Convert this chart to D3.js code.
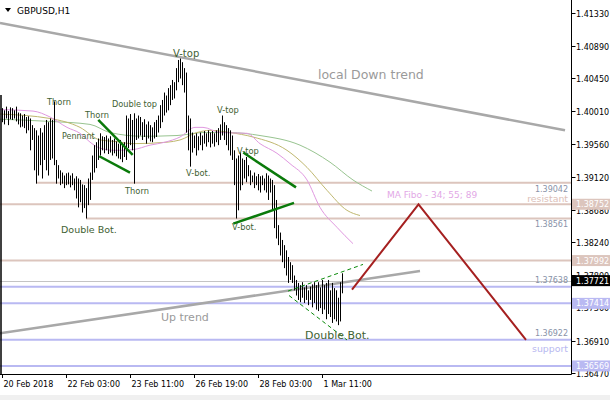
<!DOCTYPE html>
<html><head><meta charset="utf-8">
<script src="https://cdn.jsdelivr.net/npm/d3@7"></script>
<style>body{margin:0;background:#fff}svg{display:block}text{font-family:"DejaVu Sans",sans-serif}</style>
</head><body>
<svg id="c" width="610" height="400"></svg>
<script>
// ---- data ----
const highs = [1.4005,1.4002,1.4007,1.4001,1.4006,1.4005,1.4002,1.4007,1.3999,1.3998,
1.3995,1.3997,1.3993,1.3994,1.3991,1.3982,1.3978,1.3975,1.3968,1.3978,
1.3972,1.3982,1.3989,1.3986,1.3991,1.3989,1.4014,1.3935,1.3928,1.3921,
1.3918,1.3914,1.3917,1.3918,1.3914,1.3917,1.3910,1.3913,1.3910,1.3908,
1.3902,1.3901,1.3897,1.3910,1.3918,1.3941,1.3955,1.3959,1.3964,1.3971,
1.3967,1.3966,1.3968,1.3964,1.3967,1.3962,1.3964,1.3960,1.3957,1.3962,
1.3955,1.3959,1.3995,1.3991,1.3997,1.3989,1.3998,1.3991,1.3995,1.3993,
1.3986,1.3990,1.3983,1.3987,1.3982,1.3979,1.3986,1.3989,1.3995,1.4009,
1.4016,1.4026,1.4022,1.4032,1.4036,1.4043,1.4040,1.4059,1.4070,1.4072,
1.4067,1.4059,1.4053,1.3995,1.3991,1.3972,1.3968,1.3971,1.3967,1.3972,
1.3968,1.3974,1.3971,1.3975,1.3972,1.3974,1.3971,1.3975,1.3978,1.3983,
1.3995,1.3986,1.3982,1.3978,1.3975,1.3968,1.3948,1.3937,1.3941,1.3945,
1.3937,1.3935,1.3939,1.3928,1.3921,1.3914,1.3918,1.3913,1.3916,1.3913,
1.3914,1.3910,1.3917,1.3914,1.3910,1.3908,1.3901,1.3881,1.3847,1.3837,
1.3827,1.3820,1.3813,1.3804,1.3797,1.3793,1.3779,1.3773,1.3769,1.3766,
1.3770,1.3763,1.3766,1.3759,1.3764,1.3767,1.3770,1.3766,1.3770,1.3763,
1.3773,1.3766,1.3769,1.3773,1.3759,1.3769,1.3762,1.3759,1.3749,1.3770,
1.3782];
const lows = [1.3986,1.3983,1.3991,1.3982,1.3990,1.3989,1.3991,1.3987,1.3983,1.3979,
1.3980,1.3978,1.3971,1.3975,1.3948,1.3962,1.3921,1.3903,1.3914,1.3928,
1.3910,1.3935,1.3921,1.3914,1.3935,1.3937,1.3928,1.3903,1.3910,1.3901,
1.3903,1.3897,1.3901,1.3902,1.3898,1.3901,1.3894,1.3883,1.3871,1.3878,
1.3864,1.3870,1.3856,1.3874,1.3881,1.3908,1.3918,1.3924,1.3935,1.3941,
1.3948,1.3944,1.3948,1.3943,1.3945,1.3941,1.3944,1.3940,1.3937,1.3936,
1.3932,1.3939,1.3935,1.3951,1.3955,1.3948,1.3903,1.3962,1.3964,1.3968,
1.3962,1.3966,1.3957,1.3964,1.3960,1.3959,1.3964,1.3966,1.3972,1.3978,
1.3986,1.3995,1.3999,1.4002,1.4009,1.4016,1.4018,1.4029,1.4040,1.4045,
1.4036,1.4026,1.3972,1.3948,1.3926,1.3945,1.3951,1.3941,1.3948,1.3955,
1.3948,1.3957,1.3953,1.3959,1.3952,1.3957,1.3953,1.3959,1.3955,1.3962,
1.3968,1.3962,1.3955,1.3948,1.3941,1.3935,1.3901,1.3856,1.3867,1.3894,
1.3901,1.3910,1.3905,1.3913,1.3901,1.3905,1.3897,1.3901,1.3894,1.3891,
1.3901,1.3894,1.3891,1.3881,1.3891,1.3867,1.3843,1.3829,1.3820,1.3806,
1.3797,1.3789,1.3779,1.3769,1.3773,1.3769,1.3759,1.3752,1.3746,1.3743,
1.3749,1.3742,1.3746,1.3739,1.3746,1.3736,1.3742,1.3733,1.3731,1.3735,
1.3727,1.3733,1.3720,1.3727,1.3723,1.3715,1.3720,1.3717,1.3712,1.3717,
1.3755];
const xTickIdx = [0,32,64,96,128,160];
const xTickLabels = ["20 Feb 2018","22 Feb 03:00","23 Feb 11:00","26 Feb 19:00","28 Feb 03:00","1 Mar 11:00"];
const yTickValues = [1.41330,1.40890,1.40450,1.40010,1.39560,1.39120,1.38680,1.38240,1.37800,1.37360,1.36910,1.36470];
// moving averages, [bar index, price]
const ma34 = [[-1,1.4003],[15.5,1.4001],[24,1.3993],[32.5,1.3979],[39,1.3971],[45,1.3957],[49,1.3951],[56.5,1.3948],[65.5,1.3949],[74,1.3955],[81.5,1.3959],[89,1.3966],[96.5,1.3979],[100.5,1.3979],[109,1.3972],[122.5,1.3971],[129,1.3957],[137.5,1.3944],[144,1.3930],[152.5,1.3908],[159,1.3871],[167.5,1.3844],[175.5,1.3822]];
const ma55 = [[-1,1.3997],[24,1.3991],[39,1.3979],[49,1.3962],[56.5,1.3960],[65.5,1.3957],[82.5,1.3959],[89,1.3962],[97.5,1.3972],[104,1.3975],[114,1.3972],[125.5,1.3966],[142.5,1.3948],[152.5,1.3925],[162.5,1.3894],[172.5,1.3867],[179,1.3860]];
const ma89 = [[-1,1.3990],[24,1.3987],[44,1.3983],[54,1.3972],[70.5,1.3967],[87.5,1.3968],[100.5,1.3972],[114,1.3972],[129,1.3968],[149,1.3955],[164,1.3932],[175.5,1.3908],[185,1.3893]];
const resistLevels = [1.39042, 1.38752, 1.38561, 1.37992];
const resistStart = [17.5, -1, 42, -1];
const supportLevels = [1.37638, 1.37414, 1.36922, 1.36569];
const supportStart = [-1, -1, -1, -1];
const lastPrice = 1.37721;
const downTrend = [[-1,1.4120],[281.5,1.3975]];
const upTrend = [[-1,1.3701],[209,1.3785]];
const forecast = [[175,1.3760],[208.25,1.38752],[262,1.36922]];
const pennantUp = [[48.15,1.3989],[65.35,1.3942]];
const pennantLow = [[48.65,1.3940],[64,1.3918]];
const triUp = [[120.65,1.3945],[147,1.3898]];
const triLow = [[115.65,1.3849],[146,1.3877]];
const wedgeUp = [[143,1.3758],[180.5,1.3794]];
const wedgeLow = [[143.5,1.3752],[172.5,1.3692]];
const patternLabels = [
  ["V-top",85.5,1.4074,10],["Thorn",22.5,1.4009,8.3],["Thorn",41.5,1.3991,8.3],["Double top",55,1.4007,8.2],
  ["Pennant",30,1.3963,8],["Thorn",61.5,1.3889,8.3],["Double Bot.",29.5,1.3837,9.5],["V-top",107.5,1.3998,8.3],
  ["V-bot.",92,1.3913,8.3],["V-top",117.5,1.3943,8.3],["V-bot.",115,1.3840,8.3],["Double Bot.",151.5,1.3693,11]];
const trendLabels = [["local Down trend",158,1.4044,12.5],["Up trend",79.5,1.3718,11]];
const maLabel = ["MA Fibo - 34; 55; 89",192.5,1.3883];

// ---- drawing ----
const W = 610, H = 400, axisX = 571.5, plotBottom = 374;
const svg = d3.select("#c");
const x = d3.scaleLinear().domain([0,160]).range([2,322]);
const y = d3.scaleLinear().domain([1.3647,1.4133]).range([373.3,13.3]);
svg.append("rect").attr("x",0).attr("y",395).attr("width",W).attr("height",5).attr("fill","#f0f0f0");
svg.append("defs").append("clipPath").attr("id","pc").append("rect").attr("x",0).attr("y",0).attr("width",571).attr("height",plotBottom);
const g = svg.append("g").attr("clip-path","url(#pc)");
const rosy = "#dcc5bd", lav = "#b9b9f2";
function level(v, s, col){
  g.append("line").attr("x1", s<0?0:x(s)).attr("x2",571).attr("y1",y(v)).attr("y2",y(v)).attr("stroke",col).attr("stroke-width",2);
}
g.append("line").attr("x1",0).attr("x2",571).attr("y1",Math.round(y(lastPrice))+0.5).attr("y2",Math.round(y(lastPrice))+0.5).attr("stroke","#c4c4c4").attr("stroke-width",1);
resistLevels.forEach((v,i)=>level(v,resistStart[i],rosy));
supportLevels.forEach((v,i)=>level(v,supportStart[i],lav));

const line = d3.line().x(d=>x(d[0])).y(d=>y(d[1]));
const curve = d3.line().x(d=>x(d[0])).y(d=>y(d[1])).curve(d3.curveMonotoneX);
g.append("path").attr("d",curve(ma89)).attr("fill","none").attr("stroke","#98c490").attr("stroke-width",1);
g.append("path").attr("d",curve(ma55)).attr("fill","none").attr("stroke","#c0b870").attr("stroke-width",1);
g.append("path").attr("d",curve(ma34)).attr("fill","none").attr("stroke","#e098e0").attr("stroke-width",1);

g.append("path").attr("d",line(downTrend)).attr("stroke","#a8a8a8").attr("stroke-width",2.5).attr("fill","none");
g.append("path").attr("d",line(upTrend)).attr("stroke","#a8a8a8").attr("stroke-width",2.5).attr("fill","none");

g.selectAll(".bar").data(highs).join("line").attr("class","bar")
  .attr("x1",(d,i)=>Math.round(x(i))+0.5).attr("x2",(d,i)=>Math.round(x(i))+0.5)
  .attr("y1",d=>y(d)).attr("y2",(d,i)=>y(lows[i])).attr("stroke","#000").attr("stroke-width",1);

[pennantUp,pennantLow,triUp,triLow].forEach(p=>g.append("path").attr("d",line(p)).attr("stroke","#0a7a0a").attr("stroke-width",2.5).attr("fill","none"));
[wedgeUp,wedgeLow].forEach(p=>g.append("path").attr("d",line(p)).attr("stroke","#0a8a0a").attr("stroke-width",1).attr("stroke-dasharray","4,3").attr("fill","none"));
g.append("path").attr("d",line(forecast)).attr("stroke","#a52020").attr("stroke-width",2).attr("fill","none");

patternLabels.forEach(a=>g.append("text").attr("x",x(a[1])).attr("y",y(a[2])).attr("font-size",a[3]).attr("fill","#3f6233").text(a[0]));
trendLabels.forEach(a=>g.append("text").attr("x",x(a[1])).attr("y",y(a[2])).attr("font-size",a[3]).attr("fill","#9a9a9a").text(a[0]));
g.append("text").attr("x",x(maLabel[1])).attr("y",y(maLabel[2])).attr("font-size",9).attr("fill","#e2a8e6").text(maLabel[0]);

// level captions
const capCol = "#8892a8";
g.append("text").attr("x",568).attr("y",y(resistLevels[0])+9).attr("text-anchor","end").attr("font-size",8).attr("fill",capCol).text(resistLevels[0].toFixed(5));
g.append("text").attr("x",568).attr("y",y(resistLevels[1])-2).attr("text-anchor","end").attr("font-size",9.4).attr("fill","#dcc0b8").text("resistant");
g.append("text").attr("x",568).attr("y",y(resistLevels[2])+9).attr("text-anchor","end").attr("font-size",8).attr("fill",capCol).text(resistLevels[2].toFixed(5));
g.append("text").attr("x",568).attr("y",y(supportLevels[0])-4).attr("text-anchor","end").attr("font-size",8).attr("fill",capCol).text(supportLevels[0].toFixed(5));
g.append("text").attr("x",568).attr("y",y(supportLevels[2])-4).attr("text-anchor","end").attr("font-size",8).attr("fill",capCol).text(supportLevels[2].toFixed(5));
g.append("text").attr("x",568).attr("y",y(supportLevels[2])+12).attr("text-anchor","end").attr("font-size",9.4).attr("fill","#b8b8f0").text("support");

// left edge line
g.append("line").attr("x1",1).attr("x2",1).attr("y1",95).attr("y2",plotBottom).attr("stroke","#000").attr("stroke-width",1.5);

// axes
svg.append("line").attr("x1",axisX).attr("x2",axisX).attr("y1",0).attr("y2",plotBottom+0.5).attr("stroke","#000");
svg.append("line").attr("x1",0).attr("x2",axisX).attr("y1",plotBottom+0.5).attr("y2",plotBottom+0.5).attr("stroke","#000");
yTickValues.forEach(v=>{
  const yy = Math.round(y(v))+0.5;
  svg.append("line").attr("x1",axisX).attr("x2",axisX+4).attr("y1",yy).attr("y2",yy).attr("stroke","#000");
  svg.append("text").attr("x",576).attr("y",yy+3).attr("font-size",8).attr("fill","#000").text(v.toFixed(5));
});
xTickIdx.forEach((t,i)=>{
  const xx = Math.round(x(t))+0.5;
  svg.append("line").attr("x1",xx).attr("x2",xx).attr("y1",plotBottom).attr("y2",plotBottom+4).attr("stroke","#000");
  svg.append("text").attr("x",xx+1).attr("y",plotBottom+13).attr("font-size",8).attr("fill","#000").text(xTickLabels[i]);
});
function box(v, fill){
  const yy = y(v);
  svg.append("rect").attr("x",572).attr("y",yy-5.5).attr("width",38).attr("height",11).attr("fill",fill);
  svg.append("text").attr("x",576).attr("y",yy+3).attr("font-size",8).attr("fill","#fff").text(v.toFixed(5));
}
box(resistLevels[1],rosy); box(resistLevels[3],rosy);
box(supportLevels[1],lav); box(supportLevels[3],lav);
box(lastPrice,"#000");

// title
svg.append("path").attr("d","M5,8 L11,8 L8,12 Z").attr("fill","#000");
svg.append("text").attr("x",17).attr("y",14).attr("font-size",9).attr("fill","#000").text("GBPUSD,H1");
</script>
</body></html>
